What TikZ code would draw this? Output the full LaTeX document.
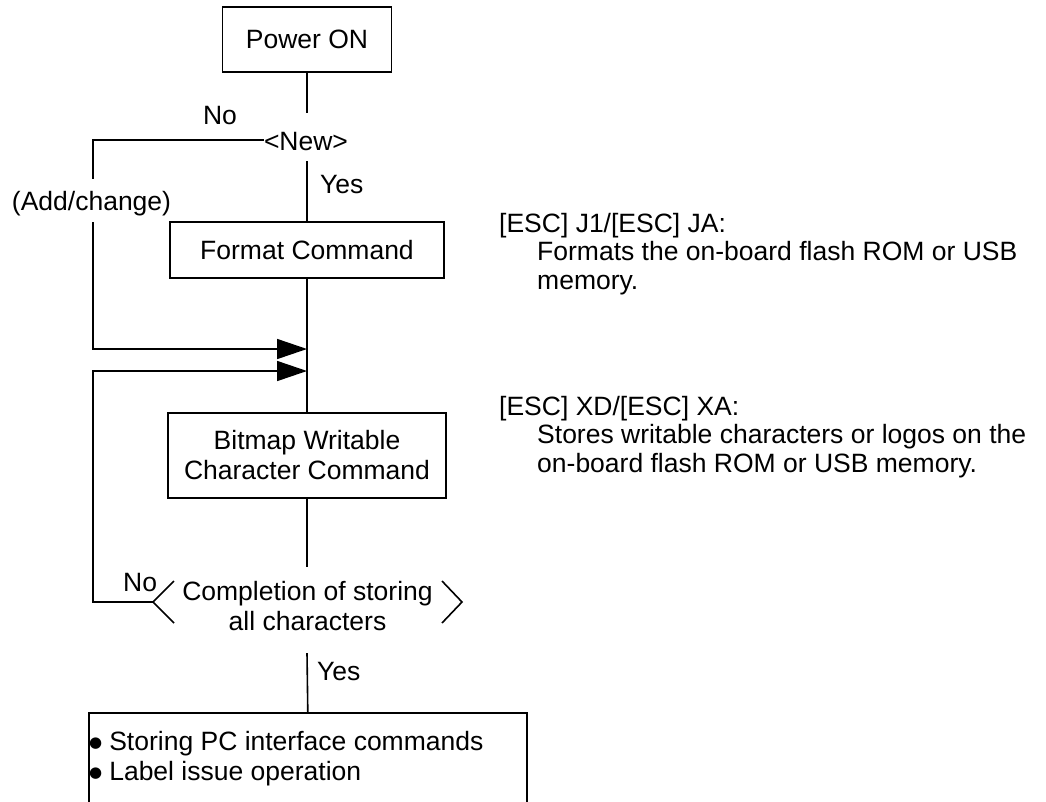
\documentclass[tikz,border=0pt]{standalone}
\usepackage{fontspec}
\setmainfont{Liberation Sans}
\newfontfamily\bltfont{DejaVu Sans}
\usetikzlibrary{arrows.meta}
\tikzset{
  every node/.style={font=\fontsize{26.5}{30}\selectfont},
  conn/.style={line width=1.6pt},
  arr/.style={line width=1.6pt, -{Triangle[length=30pt,width=20pt]}},
  procbox/.style={draw, line width=1.6pt, inner sep=0pt, align=center},
  plain/.style={inner sep=0pt},
}
\newcommand{\blt}{\raisebox{2.5pt}{\bltfont\fontsize{15}{15}\selectfont ●}\hspace{7pt}}
\begin{document}
\begin{tikzpicture}[x=1pt,y=-1pt]
\useasboundingbox (0,0) rectangle (1046,801);
% nodes
\node[procbox, minimum width=169pt, minimum height=65pt] (power) at (307,39.5) {Power ON};
\node[plain, anchor=base, text height=37pt, text depth=11pt] (newdec) at (306,150) {<New>};
\node[plain, anchor=base, text height=31pt, text depth=12pt] (addc) at (91.5,210) {(Add/change)};
\node[procbox, minimum width=274pt, minimum height=56pt] (format) at (307,250) {Format Command};
\node[procbox, minimum width=278pt, minimum height=85pt] (bitmap) at (307,455.5) {Bitmap Writable\\Character Command};
\node[plain, align=center] (comp) at (307.5,606) {Completion of storing\\all characters};
\node[draw, line width=1.6pt, anchor=north west, minimum width=438pt, minimum height=140pt, inner sep=0pt] (final) at (88,712) {};
\node[plain, anchor=base west] (b1) at (89,750) {\blt Storing PC interface commands};
\node[plain, anchor=base west] (b2) at (89,780) {\blt Label issue operation};
% labels
\node[plain, anchor=base] (lno1) at (220,124) {No};
\node[plain, anchor=base west] (lyes1) at (320,193) {Yes};
\node[plain, anchor=base west] (lno2) at (123,591) {No};
\node[plain, anchor=base west] (lyes2) at (317,680) {Yes};
% side notes
\node[plain, anchor=base west] (t1) at (499,232) {[ESC] J1/[ESC] JA:};
\node[plain, anchor=base west] (t2) at (537,260.5) {Formats the on-board flash ROM or USB};
\node[plain, anchor=base west] (t3) at (537,289) {memory.};
\node[plain, anchor=base west] (t4) at (499,415) {[ESC] XD/[ESC] XA:};
\node[plain, anchor=base west] (t5) at (537,443.5) {Stores writable characters or logos on the};
\node[plain, anchor=base west] (t6) at (537,472) {on-board flash ROM or USB memory.};
% coordinates
\coordinate (nl) at (93,140);
\coordinate (m1) at (307,349);
\coordinate (m2) at (307,371);
\coordinate (ctop) at (307,567);
\coordinate (cbot) at (307,653);
\coordinate (cw) at ([xshift=-154.5pt,yshift=4pt]comp.center);
\coordinate (cwt) at ([xshift=-133.5pt,yshift=25pt]comp.center);
\coordinate (cwb) at ([xshift=-133.5pt,yshift=-17pt]comp.center);
\coordinate (ce) at ([xshift=154.5pt,yshift=4pt]comp.center);
\coordinate (cet) at ([xshift=134.5pt,yshift=25pt]comp.center);
\coordinate (ceb) at ([xshift=134.5pt,yshift=-17pt]comp.center);
% decision chevrons
\draw[conn] (cwt) -- (cw) -- (cwb);
\draw[conn] (cet) -- (ce) -- (ceb);
% connectors
\draw[conn] (power.south) -- (power.south |- newdec.north);
\draw[conn] (format.north |- newdec.south) -- (format.north);
\draw[conn] (format.south) -- (bitmap.north);
\draw[conn] (bitmap.south) -- (ctop);
\draw[conn] (cbot) -- (final.north);
\draw[conn] (newdec.west |- nl) -- (nl) -- (nl |- addc.north);
\draw[arr] (nl |- addc.south) -- (nl |- m1) -- (m1);
\draw[arr] (cw) -- (nl |- cw) -- (nl |- m2) -- (m2);
\end{tikzpicture}
\end{document}
